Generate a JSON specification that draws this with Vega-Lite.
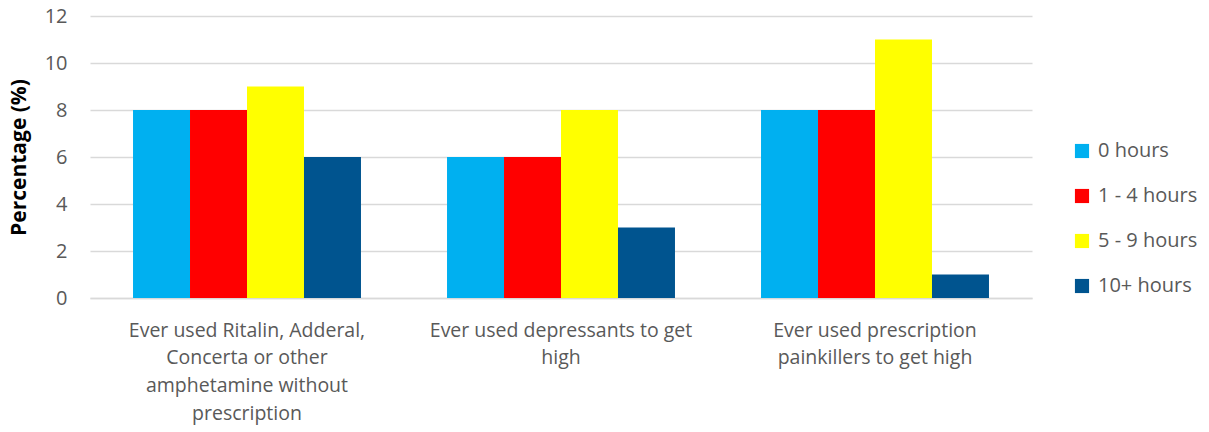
{
  "$schema": "https://vega.github.io/schema/vega-lite/v6.json",
  "width": 942,
  "height": 282,
  "autosize": {"type": "none"},
  "padding": {"left": 90, "top": 16, "right": 177, "bottom": 134},
  "background": "white",
  "config": {
    "view": {"stroke": null},
    "font": "Open Sans"
  },
  "data": {
    "values": [
      {"category": "Ritalin", "group": "0 hours", "value": 8},
      {"category": "Ritalin", "group": "1 - 4 hours", "value": 8},
      {"category": "Ritalin", "group": "5 - 9 hours", "value": 9},
      {"category": "Ritalin", "group": "10+ hours", "value": 6},
      {"category": "Depressants", "group": "0 hours", "value": 6},
      {"category": "Depressants", "group": "1 - 4 hours", "value": 6},
      {"category": "Depressants", "group": "5 - 9 hours", "value": 8},
      {"category": "Depressants", "group": "10+ hours", "value": 3},
      {"category": "Painkillers", "group": "0 hours", "value": 8},
      {"category": "Painkillers", "group": "1 - 4 hours", "value": 8},
      {"category": "Painkillers", "group": "5 - 9 hours", "value": 11},
      {"category": "Painkillers", "group": "10+ hours", "value": 1}
    ]
  },
  "mark": {"type": "bar"},
  "encoding": {
    "x": {
      "field": "category",
      "type": "nominal",
      "sort": ["Ritalin", "Depressants", "Painkillers"],
      "scale": {"paddingInner": 0.274, "paddingOuter": 0.137},
      "axis": {
        "title": null,
        "labelAngle": 0,
        "labelFontSize": 19.5,
        "labelColor": "#595959",
        "labelPadding": 23,
        "labelLineHeight": 27.7,
        "labelLimit": 0,
        "ticks": false,
        "domainColor": "#d9d9d9",
        "domainWidth": 1.5,
        "labelExpr": "datum.label == 'Ritalin' ? ['Ever used Ritalin, Adderal,', 'Concerta or other', 'amphetamine without', 'prescription'] : datum.label == 'Depressants' ? ['Ever used depressants to get', 'high'] : ['Ever used prescription', 'painkillers to get high']"
      }
    },
    "xOffset": {
      "field": "group",
      "type": "nominal",
      "sort": ["0 hours", "1 - 4 hours", "5 - 9 hours", "10+ hours"],
      "scale": {"paddingInner": 0, "paddingOuter": 0}
    },
    "y": {
      "field": "value",
      "type": "quantitative",
      "scale": {"domain": [0, 12]},
      "axis": {
        "title": "Percentage (%)",
        "titleFontSize": 21,
        "titleFontWeight": "bold",
        "titleColor": "#000000",
        "titlePadding": 15,
        "values": [0, 2, 4, 6, 8, 10, 12],
        "labelFontSize": 20,
        "labelColor": "#595959",
        "labelPadding": 23,
        "ticks": false,
        "domain": false,
        "gridColor": "#d9d9d9",
        "gridWidth": 1.3
      }
    },
    "color": {
      "field": "group",
      "type": "nominal",
      "sort": ["0 hours", "1 - 4 hours", "5 - 9 hours", "10+ hours"],
      "scale": {
        "domain": ["0 hours", "1 - 4 hours", "5 - 9 hours", "10+ hours"],
        "range": ["#00B0F0", "#FF0000", "#FFFF00", "#00548F"]
      },
      "legend": {
        "title": null,
        "orient": "none",
        "legendX": 982,
        "legendY": 125,
        "symbolType": "square",
        "symbolSize": 200,
        "symbolStrokeWidth": 0,
        "labelFontSize": 20,
        "labelColor": "#595959",
        "labelOffset": 6,
        "rowPadding": 25
      }
    }
  }
}
